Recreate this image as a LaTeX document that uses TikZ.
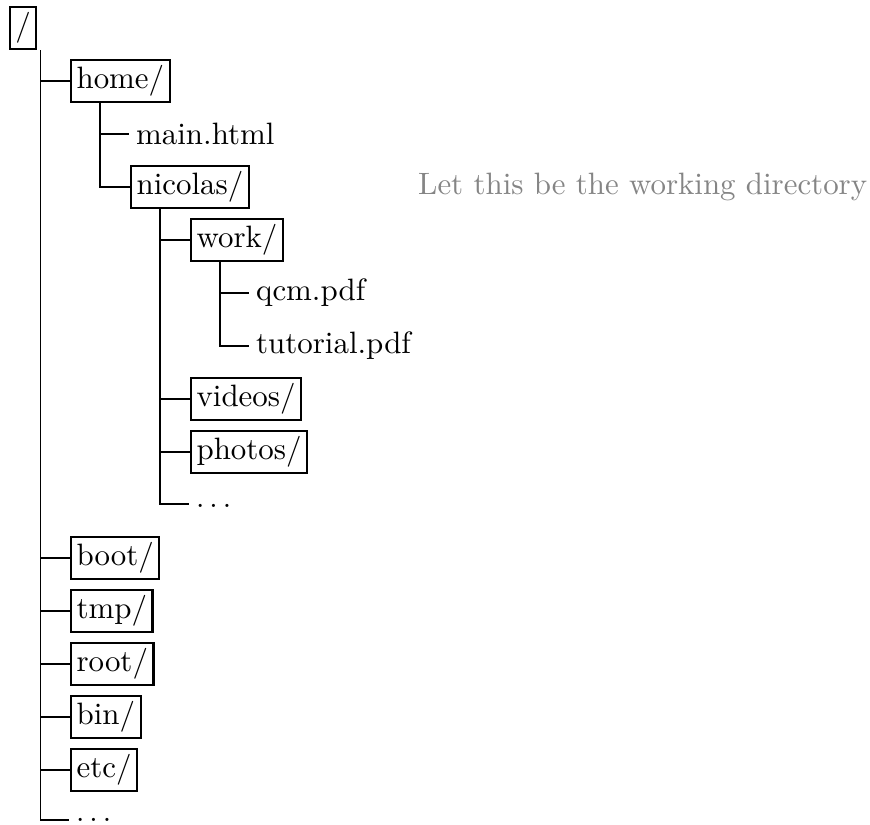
\documentclass[tikz,border=0pt]{standalone}
\tikzset{
  every node/.style={font=\fontsize{10.3}{12.4}\selectfont},
  dirbox/.style={draw, line width=0.7pt, inner sep=1.85pt, anchor=west},
  filenode/.style={inner sep=2.2pt, anchor=west},
  dotsnode/.style={inner xsep=2.2pt, inner ysep=0pt, text height=2.4pt, text depth=0pt, anchor=west},
  link/.style={line width=0.4pt},
}
\begin{document}
\begin{tikzpicture}[x=0.33333pt, y=-0.33333pt]
\useasboundingbox (0,0) rectangle (870,824);
% nodes
\node[dirbox, anchor=center] (root) at (23,28) {/};
\node[dirbox] (home) at (70,81) {home/};
\node[filenode] (main) at (129,134) {main.html};
\node[dirbox] (nicolas) at (130,187) {nicolas/};
\node[dirbox] (work) at (190,240) {work/};
\node[filenode] (qcm) at (249,293) {qcm.pdf};
\node[filenode] (tutorial) at (249,346) {tutorial.pdf};
\node[dirbox] (videos) at (190,399) {videos/};
\node[dirbox] (photos) at (190,452) {photos/};
\node[dotsnode] (ndots) at (189,504) {$\ldots$};
\node[dirbox] (boot) at (70,558) {boot/};
\node[dirbox] (tmp) at (70,611) {tmp/};
\node[dirbox] (rootdir) at (70,664) {root/};
\node[dirbox] (bin) at (70,717) {bin/};
\node[dirbox] (etc) at (70,770) {etc/};
\node[dotsnode, text height=1.1pt] (rdots) at (69,820) {$\ldots$};
\node[filenode, text=black!48] (wd) at (411,187) {Let this be the working directory};
% connectors
\foreach \c in {home,boot,tmp,rootdir,bin,etc,rdots}
  \draw[link] ([xshift=10.5pt]root.south west) |- (\c.west);
\foreach \c in {main,nicolas}
  \draw[link] ([xshift=10pt]home.south west) |- (\c.west);
\foreach \c in {work,videos,photos,ndots}
  \draw[link] ([xshift=10pt]nicolas.south west) |- (\c.west);
\foreach \c in {qcm,tutorial}
  \draw[link] ([xshift=10pt]work.south west) |- (\c.west);
\end{tikzpicture}
\end{document}
